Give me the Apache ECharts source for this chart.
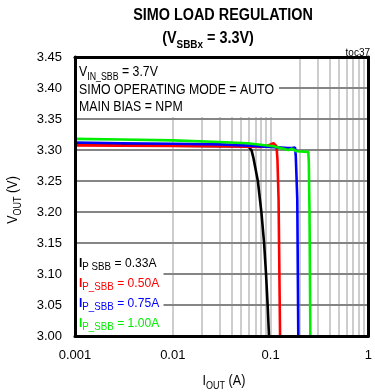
<!DOCTYPE html>
<html><head><meta charset="utf-8">
<script src="https://cdn.jsdelivr.net/npm/echarts@6/dist/echarts.min.js"></script>
<style>html,body{margin:0;padding:0;background:#fff}#c{width:375px;height:392px}</style>
</head><body><div id="c"></div>
<script>
// ---- data ----
const xTickLabels = ['0.001', '0.01', '0.1', '1'];
const yTickLabels = ['3.00', '3.05', '3.10', '3.15', '3.20', '3.25', '3.30', '3.35', '3.40', '3.45'];
const xGridValues = [0.002, 0.003, 0.004, 0.005, 0.006, 0.007, 0.008, 0.009, 0.01,
  0.02, 0.03, 0.04, 0.05, 0.06, 0.07, 0.08, 0.09, 0.1,
  0.2, 0.3, 0.4, 0.5, 0.6, 0.7, 0.8, 0.9];
const yGridValues = [3.05, 3.10, 3.15, 3.20, 3.25, 3.30, 3.35, 3.40];
const seriesNames = ['0.33A', '0.50A', '0.75A', '1.00A'];

const blackX = [0.001, 0.003, 0.01, 0.03, 0.05, 0.06, 0.064, 0.067, 0.0741, 0.0806, 0.0858, 0.0899, 0.0935, 0.0963];
const blackY = [3.309, 3.308, 3.307, 3.306, 3.306, 3.305, 3.299, 3.286, 3.250, 3.199, 3.150, 3.099, 3.047, 3.000];

const redX = [0.001, 0.003, 0.01, 0.03, 0.06, 0.08, 0.09, 0.1, 0.107, 0.112, 0.115, 0.1175, 0.1207, 0.125];
const redY = [3.3075, 3.307, 3.3065, 3.306, 3.3055, 3.305, 3.306, 3.309, 3.311, 3.310, 3.306, 3.285, 3.220, 3.000];

const blueX = [0.001, 0.003, 0.01, 0.03, 0.06, 0.1, 0.15, 0.165, 0.172, 0.178, 0.181, 0.1875, 0.192];
const blueY = [3.312, 3.311, 3.310, 3.309, 3.307, 3.305, 3.303, 3.303, 3.305, 3.304, 3.290, 3.220, 3.000];

const greenX = [0.001, 0.003, 0.01, 0.03, 0.058, 0.107, 0.152, 0.165, 0.172, 0.184, 0.243, 0.246, 0.25, 0.255];
const greenY = [3.318, 3.317, 3.3155, 3.313, 3.311, 3.306, 3.300, 3.302, 3.303, 3.298, 3.297, 3.280, 3.200, 3.000];

const zip = (xs, ys) => xs.map((x, i) => [x, ys[i]]);
const seriesX = [blackX, redX, blueX, greenX];
const seriesY = [blackY, redY, blueY, greenY];
const colors = ['#000000', '#ff0000', '#0000ff', '#00ee00'];

const FF = "'Liberation Sans', Arial, sans-serif";

const chart = echarts.init(document.getElementById('c'), null, {renderer: 'canvas'});

const frameLine = {show: true, lineStyle: {color: '#000', width: 3}};
const hidden = {show: false};

const gridLineData = xGridValues.map(v => ({xAxis: v, lineStyle: {color: '#cdcdcd', width: 2, type: 'solid'}}))
  .concat(yGridValues.map(v => ({yAxis: v, lineStyle: {color: '#858585', width: 2, type: 'solid'}})));

const dataSeries = seriesNames.map((n, i) => ({
  name: n, type: 'line', xAxisIndex: 0, yAxisIndex: 0,
  data: zip(seriesX[i], seriesY[i]),
  showSymbol: false, symbol: 'none', smooth: false, z: 3,
  lineStyle: {color: colors[i], width: 2.6}, itemStyle: {color: colors[i]},
  silent: true
}));

const sub = (size) => ({fontSize: size, fontFamily: FF, verticalAlign: 'bottom', lineHeight: size});

function richText(x, y, text, mainSize, subSize, color, opts) {
  opts = opts || {};
  return {
    type: 'text', x: x, y: y, z: 6, scaleX: opts.scaleX || 1, rotation: opts.rotation || 0,
    style: {
      text: text, fill: color, fontSize: mainSize, fontFamily: FF, fontWeight: opts.bold ? 'bold' : 'normal',
      lineHeight: mainSize + 6, align: opts.align || 'left', verticalAlign: 'middle',
      rich: {
        s: Object.assign(sub(subSize), {fill: color, fontWeight: opts.bold ? 'bold' : 'normal'}),
        b: {fontSize: mainSize, fontFamily: FF, fontWeight: 'bold', fill: color}
      }
    }
  };
}

const legendTexts = [
  '{b|I}{s|P SBB} = 0.33A',
  '{b|I}{s|P_SBB} = 0.50A',
  '{b|I}{s|P_SBB} = 0.75A',
  '{b|I}{s|P_SBB} = 1.00A'
];
const legendY = [263.5, 283, 303, 323];

const option = {
  animation: false,
  backgroundColor: '#fff',
  grid: {left: 75, right: 2, top: 57, bottom: 56, containLabel: false},
  xAxis: [
    {type: 'log', logBase: 10, min: 0.001, max: 1, position: 'bottom', z: 5,
      axisLine: frameLine, axisTick: hidden, splitLine: hidden, minorTick: hidden, minorSplitLine: hidden,
      axisLabel: {show: true, margin: 13, color: '#000', fontSize: 13, fontFamily: FF,
        formatter: v => xTickLabels[Math.round(Math.log10(v)) + 3]}},
    {type: 'log', logBase: 10, min: 0.001, max: 1, position: 'top', z: 5,
      axisLine: frameLine, axisTick: hidden, splitLine: hidden, axisLabel: hidden}
  ],
  yAxis: [
    {type: 'value', min: 3.0, max: 3.45, interval: 0.05, position: 'left', z: 5,
      axisLine: frameLine, axisTick: hidden, splitLine: hidden,
      axisLabel: {show: true, margin: 13, color: '#000', fontSize: 13, fontFamily: FF,
        formatter: v => yTickLabels[Math.round((v - 3.0) / 0.05)]}},
    {type: 'value', min: 3.0, max: 3.45, interval: 0.05, position: 'right', z: 5,
      axisLine: frameLine, axisTick: hidden, splitLine: hidden, axisLabel: hidden}
  ],
  series: [
    {type: 'line', name: 'grid', xAxisIndex: 0, yAxisIndex: 0, data: [[0.001, 3.0]], showSymbol: false,
      symbol: 'none', lineStyle: {opacity: 0}, z: 0, silent: true,
      markLine: {silent: true, symbol: ['none', 'none'], label: {show: false}, z: 0, animation: false,
        data: gridLineData}}
  ].concat(dataSeries),
  graphic: [
    {type: 'rect', z: 1, shape: {x: 76.5, y: 58.5, width: 202.5, height: 58.5}, style: {fill: '#fff'}},
    {type: 'rect', z: 1, shape: {x: 76.5, y: 250, width: 87, height: 85}, style: {fill: '#fff'}},
    {type: 'text', x: 223, y: 16, z: 6, scaleX: 0.9,
      style: {text: 'SIMO LOAD REGULATION', fill: '#000', fontSize: 16, fontWeight: 'bold', fontFamily: FF,
        align: 'center', verticalAlign: 'middle'}},
    richText(208, 39, '(V{s|SBBx} = 3.3V)', 16, 11, '#000', {bold: true, align: 'center', scaleX: 0.9}),
    {type: 'text', x: 370, y: 53, z: 6,
      style: {text: 'toc37', fill: '#000', fontSize: 10, fontFamily: FF, align: 'right', verticalAlign: 'middle'}},
    richText(79, 72, 'V{s|IN_SBB} = 3.7V', 14, 10, '#000', {scaleX: 0.88}),
    richText(79, 90, 'SIMO OPERATING MODE = AUTO', 14, 10, '#000', {scaleX: 0.88}),
    richText(79, 107, 'MAIN BIAS = NPM', 14, 10, '#000', {scaleX: 0.88}),
    richText(13, 200, 'V{s|OUT} (V)', 14, 10, '#000', {align: 'center', rotation: Math.PI / 2, scaleX: 0.9}),
    richText(224, 381, 'I{s|OUT} (A)', 14, 10, '#000', {align: 'center', scaleX: 0.9})
  ].concat(legendTexts.map((t, i) => richText(79, legendY[i], t, 13, 10.5, colors[i], {scaleX: 0.93})))
};
chart.setOption(option);
</script>
</body></html>
